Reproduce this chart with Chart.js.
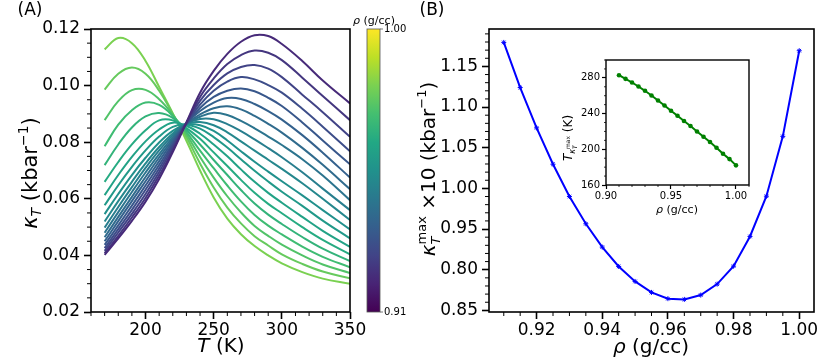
<!DOCTYPE html>
<html>
<head>
<meta charset="utf-8">
<title>kappa_T vs T and rho</title>
<script src="https://cdn.jsdelivr.net/npm/chart.js@4.4.1/dist/chart.umd.min.js"></script>
<style>
  html, body { margin: 0; padding: 0; background: #fff; }
  #wrap { position: relative; width: 830px; height: 363px; overflow: hidden; }
  canvas { position: absolute; top: 0; }
  #chartA { left: 0; }
  #chartB { left: 400px; }
  #inset { left: 550px; top: 50px; }
</style>
</head>
<body>
<div id="wrap">
  <canvas id="chartA" width="410" height="363"></canvas>
  <canvas id="chartB" width="430" height="363"></canvas>
  <canvas id="inset" width="210" height="175"></canvas>
</div>
<script>
// ---- panel A: kappa_T(T) along isochores ----
const tempK = [170, 180, 190, 200, 210, 220, 230, 240, 250, 260, 270, 280, 290, 300, 315, 330, 350];
const rho = [0.91, 0.915, 0.92, 0.925, 0.93, 0.935, 0.94, 0.945, 0.95, 0.955,
             0.96, 0.965, 0.97, 0.975, 0.98, 0.985, 0.99, 0.995, 1.00];

const k0910 = [0.0402, 0.0460, 0.0522, 0.0590, 0.0670, 0.0765, 0.0870, 0.0975, 0.1052, 0.1112, 0.1155, 0.1178, 0.1175, 0.1147, 0.1087, 0.1018, 0.0937];
const k0915 = [0.0408, 0.0469, 0.0534, 0.0603, 0.0682, 0.0772, 0.0869, 0.0960, 0.1025, 0.1076, 0.1108, 0.1124, 0.1116, 0.1090, 0.1028, 0.0963, 0.0878];
const k0920 = [0.0416, 0.0481, 0.0547, 0.0617, 0.0695, 0.0780, 0.0868, 0.0946, 0.1002, 0.1043, 0.1066, 0.1073, 0.1060, 0.1030, 0.0968, 0.0906, 0.0819];
const k0925 = [0.0426, 0.0493, 0.0561, 0.0632, 0.0707, 0.0788, 0.0867, 0.0933, 0.0982, 0.1014, 0.1030, 0.1022, 0.1002, 0.0975, 0.0918, 0.0855, 0.0768];
const k0930 = [0.0437, 0.0506, 0.0576, 0.0647, 0.0720, 0.0795, 0.0866, 0.0921, 0.0960, 0.0982, 0.0990, 0.0980, 0.0957, 0.0928, 0.0870, 0.0806, 0.0722];
const k0935 = [0.0450, 0.0521, 0.0592, 0.0662, 0.0733, 0.0803, 0.0866, 0.0910, 0.0940, 0.0956, 0.0953, 0.0935, 0.0910, 0.0880, 0.0825, 0.0763, 0.0675];
const k0940 = [0.0464, 0.0536, 0.0607, 0.0677, 0.0746, 0.0810, 0.0865, 0.0898, 0.0920, 0.0927, 0.0916, 0.0893, 0.0865, 0.0834, 0.0780, 0.0720, 0.0634];
const k0945 = [0.0480, 0.0553, 0.0624, 0.0693, 0.0758, 0.0817, 0.0865, 0.0890, 0.0904, 0.0896, 0.0875, 0.0849, 0.0820, 0.0790, 0.0740, 0.0682, 0.0595];
const k0950 = [0.0498, 0.0571, 0.0641, 0.0709, 0.0771, 0.0824, 0.0865, 0.0882, 0.0881, 0.0864, 0.0839, 0.0810, 0.0779, 0.0747, 0.0694, 0.0636, 0.0560];
const k0955 = [0.0520, 0.0592, 0.0660, 0.0725, 0.0783, 0.0831, 0.0866, 0.0871, 0.0860, 0.0835, 0.0803, 0.0770, 0.0738, 0.0706, 0.0655, 0.0600, 0.0525];
const k0960 = [0.0546, 0.0617, 0.0684, 0.0745, 0.0799, 0.0840, 0.0863, 0.0860, 0.0840, 0.0806, 0.0768, 0.0731, 0.0696, 0.0662, 0.0612, 0.0560, 0.0492];
const k0965 = [0.0577, 0.0648, 0.0713, 0.0771, 0.0820, 0.0854, 0.0862, 0.0848, 0.0818, 0.0781, 0.0740, 0.0699, 0.0661, 0.0625, 0.0575, 0.0523, 0.0460];
const k0970 = [0.0613, 0.0684, 0.0748, 0.0803, 0.0845, 0.0869, 0.0858, 0.0830, 0.0792, 0.0750, 0.0704, 0.0660, 0.0621, 0.0586, 0.0536, 0.0487, 0.0430];
const k0975 = [0.0660, 0.0730, 0.0792, 0.0842, 0.0877, 0.0877, 0.0850, 0.0812, 0.0764, 0.0716, 0.0667, 0.0621, 0.0582, 0.0549, 0.0500, 0.0455, 0.0404];
const k0980 = [0.0719, 0.0792, 0.0852, 0.0891, 0.0903, 0.0886, 0.0843, 0.0792, 0.0737, 0.0684, 0.0631, 0.0583, 0.0544, 0.0511, 0.0465, 0.0424, 0.0380];
const k0985 = [0.0786, 0.0862, 0.0913, 0.0940, 0.0932, 0.0893, 0.0836, 0.0770, 0.0708, 0.0647, 0.0591, 0.0543, 0.0505, 0.0474, 0.0431, 0.0395, 0.0358];
const k0990 = [0.0878, 0.0945, 0.0984, 0.0985, 0.0952, 0.0897, 0.0828, 0.0748, 0.0675, 0.0609, 0.0552, 0.0504, 0.0469, 0.0438, 0.0400, 0.0368, 0.0338];
const k0995 = [0.0986, 0.1042, 0.1064, 0.1042, 0.0982, 0.0900, 0.0818, 0.0725, 0.0640, 0.0569, 0.0513, 0.0468, 0.0435, 0.0404, 0.0370, 0.0343, 0.0319];
const k1000 = [0.1128, 0.1168, 0.1150, 0.1087, 0.0995, 0.0902, 0.0805, 0.0700, 0.0605, 0.0530, 0.0475, 0.0433, 0.0400, 0.0372, 0.0341, 0.0318, 0.0300];

const kappaCurves = [k0910, k0915, k0920, k0925, k0930, k0935, k0940, k0945, k0950, k0955,
                     k0960, k0965, k0970, k0975, k0980, k0985, k0990, k0995, k1000];

// ---- panel B: maximum of kappa_T (x10) and its temperature ----
const kappaMaxX10 = [1.1795, 1.1240, 1.0744, 1.0297, 0.9900, 0.9565, 0.9278, 0.9040, 0.8856, 0.8721,
                     0.8644, 0.8635, 0.8688, 0.8823, 0.9044, 0.9409, 0.9904, 1.0640, 1.1693];
const tKappaMax = [283.0, 278.9, 274.8, 270.3, 265.5, 260.3, 254.7, 249.1, 243.1, 237.5,
                   231.6, 226.0, 220.0, 214.0, 208.1, 201.7, 195.0, 189.0, 182.0];

// ---- ticks ----
const xTicksA = [200, 250, 300, 350];
const yTicksA = [0.02, 0.04, 0.06, 0.08, 0.10, 0.12];
const xTicksB = [0.92, 0.94, 0.96, 0.98, 1.00];
const yTicksB = [0.85, 0.90, 0.95, 1.00, 1.05, 1.10, 1.15];
const yLabelsB = ['0.85', '0.80', '0.95', '1.00', '1.05', '1.10', '1.15'];
const xTicksIn = [0.90, 0.95, 1.00];
const yTicksIn = [160, 200, 240, 280];

Chart.defaults.font.family = '"DejaVu Sans", sans-serif';
Chart.defaults.color = '#000';

const VIRIDIS = ['#440154', '#482475', '#414487', '#355f8d', '#2a788e', '#21918c',
                 '#22a884', '#44bf70', '#7ad151', '#bddf26', '#fde725'];

function hexRgb(h) {
  return [1, 3, 5].map(i => parseInt(h.slice(i, i + 2), 16));
}

function viridis(t) {
  const s = Math.max(0, Math.min(1, t)) * 10;
  const i = Math.min(9, Math.floor(s));
  const f = s - i;
  const a = hexRgb(VIRIDIS[i]), b = hexRgb(VIRIDIS[i + 1]);
  const c = a.map((v, k) => Math.round(v + (b[k] - v) * f));
  return `rgb(${c[0]},${c[1]},${c[2]})`;
}

function fnt(p) {
  return (p.i ? 'italic ' : '') + p.s + 'px "DejaVu Sans"';
}

// draw a run of text pieces (for sub/superscripts); cx,cy = centre along run, baseline
function richText(ctx, parts, cx, cy, vertical) {
  ctx.save();
  ctx.translate(cx, cy);
  if (vertical) ctx.rotate(-Math.PI / 2);
  ctx.fillStyle = '#000';
  ctx.textAlign = 'left';
  ctx.textBaseline = 'alphabetic';
  const widths = parts.map(p => { ctx.font = fnt(p); return ctx.measureText(p.t).width; });
  let total = 0;
  parts.forEach((p, i) => { if (!p.stay) total += widths[i]; });
  let x = -total / 2;
  parts.forEach((p, i) => {
    ctx.font = fnt(p);
    ctx.fillText(p.t, x, p.dy || 0);
    if (!p.stay) x += widths[i];
  });
  ctx.restore();
}

function range(a, b, step) {
  const out = [];
  const n = Math.round((b - a) / step);
  for (let i = 0; i <= n; i++) out.push(+(a + i * step).toFixed(6));
  return out;
}

function minorTicks(chart, axis, values, majors, len, lw) {
  const ctx = chart.ctx, a = chart.chartArea, s = chart.scales[axis];
  ctx.save();
  ctx.strokeStyle = '#000';
  ctx.lineWidth = lw;
  ctx.beginPath();
  values.forEach(v => {
    if (majors.some(m => Math.abs(m - v) < 1e-9)) return;
    if (v < s.min - 1e-9 || v > s.max + 1e-9) return;
    const p = s.getPixelForValue(v);
    if (axis === 'x') { ctx.moveTo(p, a.bottom); ctx.lineTo(p, a.bottom + len); }
    else { ctx.moveTo(a.left, p); ctx.lineTo(a.left - len, p); }
  });
  ctx.stroke();
  ctx.restore();
}

function frame(chart, lw) {
  const ctx = chart.ctx, a = chart.chartArea;
  ctx.save();
  ctx.strokeStyle = '#000';
  ctx.lineWidth = lw;
  ctx.strokeRect(a.left, a.top, a.right - a.left, a.bottom - a.top);
  ctx.restore();
}

function linScale(min, max, tickVals, fmt, size, fit, tickLen, pad, tickW) {
  return {
    type: 'linear', min: min, max: max,
    afterBuildTicks: s => { s.ticks = tickVals.map(v => ({ value: v })); },
    afterFit: s => { if (s.isHorizontal()) s.height = fit; else s.width = fit; },
    ticks: { callback: fmt, font: { size: size }, padding: pad, autoSkip: false, maxRotation: 0, color: '#000' },
    grid: { drawOnChartArea: false, drawTicks: true, tickLength: tickLen, tickWidth: tickW, tickColor: '#000' },
    border: { display: false }
  };
}

const baseOpts = {
  responsive: false,
  animation: false,
  events: [],
  plugins: { legend: { display: false }, tooltip: { enabled: false } }
};

// ---------- panel A ----------
const panelA = {
  id: 'panelA',
  afterDraw(chart) {
    const ctx = chart.ctx, a = chart.chartArea;
    minorTicks(chart, 'x', range(160, 350, 10), xTicksA, 4, 1);
    minorTicks(chart, 'y', range(0.02, 0.12, 0.005), yTicksA, 4, 1);
    frame(chart, 1.6);

    // colour bar
    const cb = { x: 367, y: a.top, w: 13, h: a.bottom - a.top };
    const g = ctx.createLinearGradient(0, cb.y + cb.h, 0, cb.y);
    VIRIDIS.forEach((c, i) => g.addColorStop(i / (VIRIDIS.length - 1), c));
    ctx.save();
    ctx.fillStyle = g;
    ctx.fillRect(cb.x, cb.y, cb.w, cb.h);
    ctx.strokeStyle = '#555';
    ctx.lineWidth = 0.8;
    ctx.strokeRect(cb.x, cb.y, cb.w, cb.h);
    ctx.beginPath();
    ctx.moveTo(cb.x + cb.w, cb.y); ctx.lineTo(cb.x + cb.w + 3, cb.y);
    ctx.moveTo(cb.x + cb.w, cb.y + cb.h); ctx.lineTo(cb.x + cb.w + 3, cb.y + cb.h);
    ctx.stroke();
    ctx.fillStyle = '#000';
    ctx.font = '10px "DejaVu Sans"';
    ctx.textBaseline = 'middle';
    ctx.textAlign = 'left';
    ctx.fillText(rho[rho.length - 1].toFixed(2), cb.x + cb.w + 4, cb.y);
    ctx.fillText(rho[0].toFixed(2), cb.x + cb.w + 4, cb.y + cb.h);
    ctx.restore();
    richText(ctx, [{ t: 'ρ', s: 11, i: true }, { t: ' (g/cc)', s: 11 }], 374, 24, false);

    // axis titles
    richText(ctx, [{ t: 'T', s: 20, i: true }, { t: ' (K)', s: 20 }], 221, 352, false);
    richText(ctx, [
      { t: 'κ', s: 21, i: true }, { t: 'T', s: 14, i: true, dy: 4 },
      { t: ' (kbar', s: 21 }, { t: '−1', s: 14, dy: -9 }, { t: ')', s: 21 }
    ], 37, 173, true);
    richText(ctx, [{ t: '(A)', s: 17 }], 30, 15, false);
  }
};

new Chart(document.getElementById('chartA'), {
  type: 'line',
  data: {
    datasets: kappaCurves.map((ys, i) => ({
      data: ys.map((y, j) => ({ x: tempK[j], y: y })),
      borderColor: viridis(0.12 + 0.68 * i / (kappaCurves.length - 1)),
      borderWidth: 2,
      pointRadius: 0,
      fill: false,
      tension: 0.4
    }))
  },
  options: Object.assign({}, baseOpts, {
    layout: { padding: { left: 0, right: 60, top: 29, bottom: 0 } },
    scales: {
      x: linScale(160, 350, xTicksA, v => String(v), 17, 51, 7, 1, 1.6),
      y: linScale(0.02, 0.12, yTicksA, v => v.toFixed(2), 17, 91, 7, 4, 1.6)
    }
  }),
  plugins: [panelA]
});

// ---------- panel B ----------
const panelB = {
  id: 'panelB',
  afterDraw(chart) {
    const ctx = chart.ctx;
    minorTicks(chart, 'x', range(0.905, 1.005, 0.005), xTicksB, 4, 1);
    minorTicks(chart, 'y', range(0.85, 1.19, 0.01), yTicksB, 4, 1);
    frame(chart, 1.6);
    richText(ctx, [{ t: 'ρ', s: 20, i: true }, { t: ' (g/cc)', s: 20 }], 251, 353, false);
    richText(ctx, [
      { t: 'κ', s: 20, i: true }, { t: 'T', s: 13, i: true, dy: 5, stay: true }, { t: 'max', s: 13, dy: -9 },
      { t: ' ×10 (kbar', s: 20 }, { t: '−1', s: 13, dy: -9 }, { t: ')', s: 20 }
    ], 35, 169, true);
    richText(ctx, [{ t: '(B)', s: 17 }], 32, 15, false);
  }
};

new Chart(document.getElementById('chartB'), {
  type: 'line',
  data: {
    datasets: [{
      data: rho.map((r, i) => ({ x: r, y: kappaMaxX10[i] })),
      borderColor: '#0000ff',
      backgroundColor: '#0000ff',
      borderWidth: 2,
      pointStyle: 'star',
      pointRadius: 2.5,
      pointBorderWidth: 1,
      tension: 0
    }]
  },
  options: Object.assign({}, baseOpts, {
    layout: { padding: { left: 0, right: 16, top: 29, bottom: 0 } },
    scales: {
      x: linScale(0.9055, 1.0045, xTicksB, v => v.toFixed(2), 17, 51, 7, 1, 1.6),
      y: linScale(0.848, 1.196, yTicksB, (v, i) => yLabelsB[i], 17, 89, 7, 4, 1.6)
    }
  }),
  plugins: [panelB]
});

// ---------- inset ----------
const insetDeco = {
  id: 'insetDeco',
  beforeDatasetsDraw(chart) {
    const ctx = chart.ctx, a = chart.chartArea;
    ctx.save();
    ctx.fillStyle = '#fff';
    ctx.fillRect(a.left, a.top, a.right - a.left, a.bottom - a.top);
    ctx.restore();
  },
  afterDraw(chart) {
    const ctx = chart.ctx;
    minorTicks(chart, 'x', range(0.90, 1.01, 0.01), xTicksIn, 2, 0.8);
    minorTicks(chart, 'y', range(160, 300, 10), yTicksIn, 2, 0.8);
    frame(chart, 1.4);
    richText(ctx, [{ t: 'ρ', s: 11, i: true }, { t: ' (g/cc)', s: 11 }], 127, 163, false);
    richText(ctx, [
      { t: 'T', s: 12, i: true }, { t: 'κ', s: 8, i: true, dy: 3 },
      { t: 'T', s: 6, i: true, dy: 5, stay: true }, { t: 'max', s: 6, dy: -2 },
      { t: ' (K)', s: 12 }
    ], 22, 88, true);
  }
};

new Chart(document.getElementById('inset'), {
  type: 'line',
  data: {
    datasets: [{
      data: rho.map((r, i) => ({ x: r, y: tKappaMax[i] })),
      borderColor: '#008000',
      backgroundColor: '#008000',
      borderWidth: 2,
      pointStyle: 'circle',
      pointRadius: 2.3,
      pointBorderWidth: 0,
      tension: 0
    }]
  },
  options: Object.assign({}, baseOpts, {
    layout: { padding: { left: 0, right: 11, top: 10, bottom: 0 } },
    scales: {
      x: linScale(0.90, 1.01, xTicksIn, v => v.toFixed(2), 10, 40, 4, 1, 1.2),
      y: linScale(160, 300, yTicksIn, v => String(v), 10, 56, 4, 2, 1.2)
    }
  }),
  plugins: [insetDeco]
});
</script>
</body>
</html>
